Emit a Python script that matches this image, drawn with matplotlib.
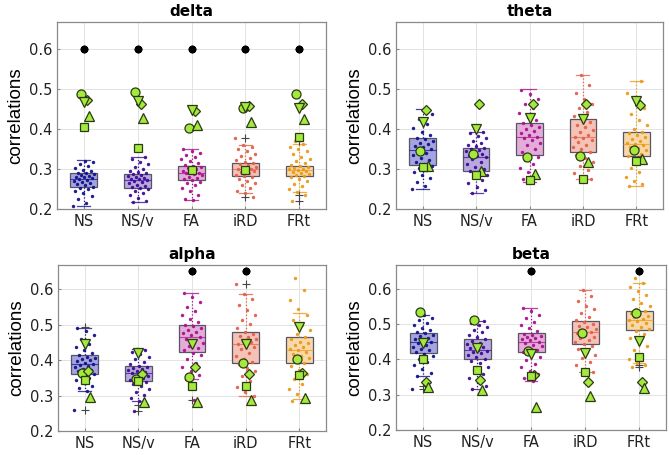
import matplotlib.pyplot as plt
import numpy as np

plt.rcParams.update({
    "font.family": "DejaVu Sans",
    "font.size": 10,
})

GROUPS = ["NS", "NS/v", "FA", "iRD", "FRt"]
DOT_COLORS = ["#12128a", "#3d0c92", "#a8128c", "#e2614b", "#eb9a18"]
BOX_COLORS = ["#a4a4de", "#b8a8e0", "#e4acd9", "#f5c2b6", "#f8d8aa"]
MARKERS = ["o", "D", "v", "^", "s"]  # circle, diamond, down-tri, up-tri, square

# ---------- delta ----------
# box stats per group: (whislo, q1, median, q3, whishi)
delta_stats = [(0.207, 0.254, 0.275, 0.290, 0.322),
               (0.217, 0.252, 0.272, 0.288, 0.330),
               (0.222, 0.272, 0.289, 0.308, 0.350),
               (0.240, 0.283, 0.299, 0.316, 0.360),
               (0.243, 0.283, 0.297, 0.307, 0.362)]
delta_fliers = [[], [], [], [0.377, 0.231], [0.235, 0.220, 0.370]]
delta_dots = [
    [0.207, 0.215, 0.224, 0.233, 0.240, 0.246, 0.250, 0.253, 0.256, 0.259, 0.262, 0.265, 0.268, 0.271, 0.273, 0.275,
     0.277, 0.279, 0.281, 0.283, 0.285, 0.287, 0.289, 0.291, 0.294, 0.298, 0.302, 0.307, 0.312, 0.318, 0.321],
    [0.217, 0.221, 0.228, 0.235, 0.241, 0.245, 0.249, 0.252, 0.255, 0.258, 0.261, 0.264, 0.267, 0.270, 0.272, 0.274,
     0.276, 0.278, 0.280, 0.283, 0.285, 0.287, 0.289, 0.292, 0.296, 0.301, 0.306, 0.312, 0.318, 0.325, 0.330],
    [0.222, 0.225, 0.236, 0.245, 0.252, 0.259, 0.264, 0.268, 0.272, 0.275, 0.278, 0.281, 0.284, 0.287, 0.289, 0.291,
     0.293, 0.296, 0.299, 0.302, 0.305, 0.308, 0.311, 0.315, 0.319, 0.324, 0.329, 0.334, 0.340, 0.346, 0.349],
    [0.231, 0.240, 0.246, 0.253, 0.259, 0.265, 0.270, 0.275, 0.279, 0.283, 0.286, 0.289, 0.292, 0.295, 0.297, 0.299,
     0.301, 0.303, 0.306, 0.309, 0.312, 0.315, 0.318, 0.322, 0.327, 0.332, 0.338, 0.344, 0.350, 0.356, 0.360, 0.377],
    [0.220, 0.235, 0.243, 0.250, 0.257, 0.263, 0.269, 0.274, 0.279, 0.282, 0.285, 0.288, 0.291, 0.293, 0.295, 0.297,
     0.299, 0.301, 0.303, 0.305, 0.307, 0.310, 0.314, 0.319, 0.325, 0.331, 0.337, 0.344, 0.350, 0.356, 0.362, 0.370]]
# green markers, rows: circle, diamond, down-tri, up-tri, square; columns: groups
delta_green = [[0.487, 0.493, 0.403, 0.452, 0.488],
               [0.474, 0.464, 0.445, 0.459, 0.462],
               [0.468, 0.470, 0.447, 0.456, 0.454],
               [0.433, 0.427, 0.411, 0.418, 0.424],
               [0.404, 0.353, 0.297, 0.298, 0.381]]
delta_sig = [0.60, 0.60, 0.60, 0.60, 0.60]

# ---------- theta ----------
theta_stats = [(0.249, 0.310, 0.348, 0.377, 0.450),
               (0.240, 0.295, 0.331, 0.353, 0.393),
               (0.268, 0.336, 0.380, 0.415, 0.500),
               (0.275, 0.343, 0.380, 0.424, 0.535),
               (0.258, 0.332, 0.362, 0.393, 0.520)]
theta_fliers = [[], [], [], [], []]
theta_dots = [
    [0.249, 0.258, 0.268, 0.277, 0.285, 0.292, 0.298, 0.303, 0.308, 0.312, 0.317, 0.322, 0.328, 0.334, 0.340, 0.345,
     0.350, 0.354, 0.358, 0.362, 0.366, 0.370, 0.374, 0.378, 0.385, 0.393, 0.402, 0.412, 0.424, 0.437, 0.449],
    [0.240, 0.247, 0.256, 0.264, 0.272, 0.279, 0.285, 0.290, 0.295, 0.300, 0.306, 0.312, 0.318, 0.324, 0.329, 0.332,
     0.335, 0.338, 0.341, 0.344, 0.347, 0.350, 0.353, 0.357, 0.361, 0.366, 0.371, 0.377, 0.383, 0.389, 0.393],
    [0.268, 0.275, 0.284, 0.293, 0.303, 0.313, 0.322, 0.330, 0.336, 0.343, 0.351, 0.359, 0.366, 0.372, 0.377, 0.381,
     0.385, 0.390, 0.395, 0.400, 0.405, 0.410, 0.415, 0.422, 0.431, 0.441, 0.452, 0.463, 0.475, 0.488, 0.499],
    [0.275, 0.281, 0.289, 0.298, 0.308, 0.318, 0.327, 0.335, 0.343, 0.349, 0.355, 0.361, 0.367, 0.372, 0.377, 0.381,
     0.386, 0.392, 0.398, 0.404, 0.410, 0.417, 0.424, 0.432, 0.442, 0.452, 0.463, 0.475, 0.490, 0.510, 0.535],
    [0.258, 0.262, 0.271, 0.281, 0.292, 0.303, 0.314, 0.323, 0.332, 0.337, 0.342, 0.347, 0.352, 0.356, 0.360, 0.363,
     0.366, 0.370, 0.374, 0.379, 0.384, 0.389, 0.393, 0.401, 0.411, 0.423, 0.437, 0.452, 0.468, 0.490, 0.520]]
theta_green = [[0.344, 0.337, 0.331, 0.332, 0.347],
               [0.449, 0.464, 0.463, 0.464, 0.460],
               [0.418, 0.401, 0.428, 0.426, 0.470],
               [0.307, 0.295, 0.288, 0.317, 0.326],
               [0.304, 0.284, 0.272, 0.275, 0.320]]
theta_sig = [None, None, None, None, None]

# ---------- alpha ----------
alpha_stats = [(0.313, 0.362, 0.389, 0.413, 0.489),
               (0.285, 0.340, 0.363, 0.382, 0.432),
               (0.348, 0.424, 0.465, 0.500, 0.590),
               (0.298, 0.393, 0.445, 0.480, 0.585),
               (0.290, 0.391, 0.429, 0.466, 0.534)]
alpha_fliers = [[0.260, 0.494], [0.274, 0.255], [0.287], [0.615], []]
alpha_dots = [
    [0.260, 0.313, 0.320, 0.328, 0.336, 0.343, 0.349, 0.355, 0.360, 0.364, 0.368, 0.372, 0.376, 0.380, 0.384, 0.387,
     0.390, 0.393, 0.396, 0.399, 0.402, 0.405, 0.409, 0.413, 0.419, 0.427, 0.436, 0.446, 0.458, 0.470, 0.482, 0.489],
    [0.255, 0.274, 0.285, 0.293, 0.302, 0.311, 0.319, 0.326, 0.332, 0.337, 0.341, 0.345, 0.349, 0.352, 0.356, 0.360,
     0.363, 0.366, 0.369, 0.372, 0.375, 0.378, 0.381, 0.384, 0.389, 0.395, 0.402, 0.409, 0.416, 0.423, 0.428, 0.432],
    [0.287, 0.348, 0.358, 0.369, 0.380, 0.392, 0.403, 0.413, 0.420, 0.427, 0.434, 0.441, 0.448, 0.454, 0.460, 0.465,
     0.470, 0.475, 0.480, 0.485, 0.490, 0.495, 0.500, 0.508, 0.517, 0.527, 0.538, 0.550, 0.563, 0.577, 0.589],
    [0.298, 0.310, 0.325, 0.340, 0.355, 0.368, 0.379, 0.388, 0.394, 0.403, 0.412, 0.421, 0.430, 0.437, 0.442, 0.446,
     0.450, 0.454, 0.459, 0.464, 0.469, 0.474, 0.480, 0.490, 0.501, 0.513, 0.527, 0.541, 0.556, 0.571, 0.585, 0.615],
    [0.285, 0.292, 0.305, 0.318, 0.332, 0.346, 0.360, 0.372, 0.383, 0.391, 0.398, 0.405, 0.411, 0.417, 0.423, 0.428,
     0.432, 0.437, 0.442, 0.447, 0.452, 0.458, 0.465, 0.474, 0.485, 0.498, 0.512, 0.527, 0.545, 0.568, 0.598, 0.632]]
alpha_green = [[0.363, 0.347, 0.351, 0.393, 0.404],
               [0.369, 0.362, 0.380, 0.362, 0.363],
               [0.444, 0.419, 0.445, 0.446, 0.492],
               [0.297, 0.283, 0.281, 0.287, 0.292],
               [0.345, 0.340, 0.327, 0.327, 0.357]]
alpha_sig = [None, None, 0.65, 0.65, None]

# ---------- beta ----------
beta_stats = [(0.352, 0.419, 0.451, 0.476, 0.525),
              (0.316, 0.400, 0.427, 0.458, 0.509),
              (0.340, 0.420, 0.451, 0.474, 0.547),
              (0.365, 0.445, 0.477, 0.509, 0.598),
              (0.390, 0.484, 0.511, 0.538, 0.616)]
beta_fliers = [[0.316, 0.325], [], [], [], [0.383, 0.378]]
beta_dots = [
    [0.316, 0.325, 0.352, 0.362, 0.373, 0.383, 0.393, 0.402, 0.410, 0.416, 0.421, 0.426, 0.431, 0.436, 0.441, 0.446,
     0.450, 0.454, 0.458, 0.462, 0.466, 0.470, 0.474, 0.478, 0.484, 0.490, 0.497, 0.504, 0.511, 0.518, 0.525],
    [0.316, 0.325, 0.336, 0.347, 0.358, 0.369, 0.380, 0.389, 0.396, 0.402, 0.407, 0.412, 0.417, 0.421, 0.425, 0.428,
     0.432, 0.436, 0.440, 0.444, 0.448, 0.452, 0.457, 0.463, 0.470, 0.477, 0.484, 0.491, 0.498, 0.504, 0.509],
    [0.340, 0.348, 0.358, 0.368, 0.378, 0.388, 0.398, 0.407, 0.415, 0.421, 0.427, 0.432, 0.437, 0.442, 0.447, 0.451,
     0.454, 0.457, 0.460, 0.463, 0.466, 0.469, 0.473, 0.480, 0.488, 0.497, 0.507, 0.517, 0.527, 0.537, 0.547],
    [0.365, 0.374, 0.384, 0.394, 0.404, 0.413, 0.422, 0.430, 0.437, 0.444, 0.450, 0.455, 0.460, 0.465, 0.470, 0.475,
     0.479, 0.483, 0.487, 0.491, 0.495, 0.500, 0.505, 0.512, 0.521, 0.531, 0.542, 0.553, 0.565, 0.580, 0.598],
    [0.378, 0.383, 0.390, 0.402, 0.414, 0.426, 0.438, 0.450, 0.462, 0.472, 0.480, 0.487, 0.493, 0.498, 0.503, 0.508,
     0.512, 0.516, 0.520, 0.524, 0.528, 0.532, 0.537, 0.544, 0.552, 0.561, 0.571, 0.582, 0.594, 0.606, 0.616, 0.630]]
beta_green = [[0.534, 0.512, 0.424, 0.475, 0.532],
              [0.336, 0.341, 0.355, 0.336, 0.336],
              [0.448, 0.432, 0.416, 0.419, 0.453],
              [0.321, 0.313, 0.265, 0.297, 0.318],
              [0.400, 0.371, 0.353, 0.364, 0.408]]
beta_sig = [None, None, 0.65, None, 0.65]

MARKER_DX = [-0.05, 0.06, 0.0, 0.1, 0.0]
MARKER_MS = [6.5, 5.5, 6.5, 6.5, 5.5]


def draw_panel(ax, title, stats, fliers, dots, green, sig):
    x = np.arange(1, len(GROUPS) + 1)
    bstats = []
    for (lo, q1, med, q3, hi), fl in zip(stats, fliers):
        bstats.append(dict(whislo=lo, q1=q1, med=med, q3=q3, whishi=hi, fliers=fl))
    bp = ax.bxp(bstats, positions=x, widths=0.5, patch_artist=True,
                showfliers=True, manage_ticks=False)
    for i in range(len(GROUPS)):
        c = DOT_COLORS[i]
        bp["boxes"][i].set(facecolor=BOX_COLORS[i], edgecolor="#555566", linewidth=0.9, zorder=2)
        bp["medians"][i].set(color=c, linewidth=0.8, alpha=0.7, zorder=4)
        for w in bp["whiskers"][2 * i:2 * i + 2]:
            w.set(color=c, linestyle=":", linewidth=0.9, zorder=2)
        for cap in bp["caps"][2 * i:2 * i + 2]:
            cap.set(color=c, linewidth=0.9, alpha=0.8, zorder=2)
            cap.set_xdata([x[i] - 0.12, x[i] + 0.12])
        bp["fliers"][i].set(marker="+", markeredgecolor="#444444", markersize=6, markeredgewidth=0.8)

        vals = np.asarray(dots[i])
        jit = ((np.arange(len(vals)) * 0.6180339 + i * 0.29) % 1 - 0.5) * 0.40
        ax.scatter(x[i] + jit, vals, s=6, color=c, alpha=0.95, linewidths=0, zorder=3)

    for m, (mk, dx, ms) in enumerate(zip(MARKERS, MARKER_DX, MARKER_MS)):
        ax.plot(x + dx, green[m], linestyle="none", marker=mk, markersize=ms,
                markerfacecolor="#a3ea3d", markeredgecolor="#2c3a14", markeredgewidth=0.9, zorder=5)

    for i, s in enumerate(sig):
        if s is not None:
            ax.plot(x[i], s, marker=(8, 2, 0), markersize=5.5, color="black",
                    markeredgewidth=1.6, zorder=6)

    ax.set_xlim(0.5, 5.5)
    ax.set_ylim(0.2, 0.668)
    ax.set_xticks(x)
    ax.set_xticklabels(GROUPS)
    ax.set_yticks([0.2, 0.3, 0.4, 0.5, 0.6])
    ax.grid(True, color="#e3e3e3", linewidth=0.7, zorder=0)
    ax.set_axisbelow(True)
    ax.tick_params(direction="in", length=2, color="#888888", labelsize=10.5, labelcolor="#222222")
    for sp in ax.spines.values():
        sp.set_color("#8a8a8a")
        sp.set_linewidth(0.9)
    ax.set_ylabel("correlations", fontsize=13.5, family="Liberation Sans", labelpad=3)
    ax.set_title(title, fontsize=11, fontweight="bold", pad=4)


fig = plt.figure(figsize=(6.69, 4.55), dpi=100)
ax_d = fig.add_axes([57 / 669, 1 - 209 / 455, 269 / 669, 187 / 455])
ax_t = fig.add_axes([396 / 669, 1 - 209 / 455, 267 / 669, 187 / 455])
ax_a = fig.add_axes([58 / 669, 1 - 431 / 455, 268 / 669, 166 / 455])
ax_b = fig.add_axes([396 / 669, 1 - 430 / 455, 270 / 669, 165 / 455])

draw_panel(ax_d, "delta", delta_stats, delta_fliers, delta_dots, delta_green, delta_sig)
draw_panel(ax_t, "theta", theta_stats, theta_fliers, theta_dots, theta_green, theta_sig)
draw_panel(ax_a, "alpha", alpha_stats, alpha_fliers, alpha_dots, alpha_green, alpha_sig)
draw_panel(ax_b, "beta", beta_stats, beta_fliers, beta_dots, beta_green, beta_sig)

fig.savefig("out.png", dpi=100)
